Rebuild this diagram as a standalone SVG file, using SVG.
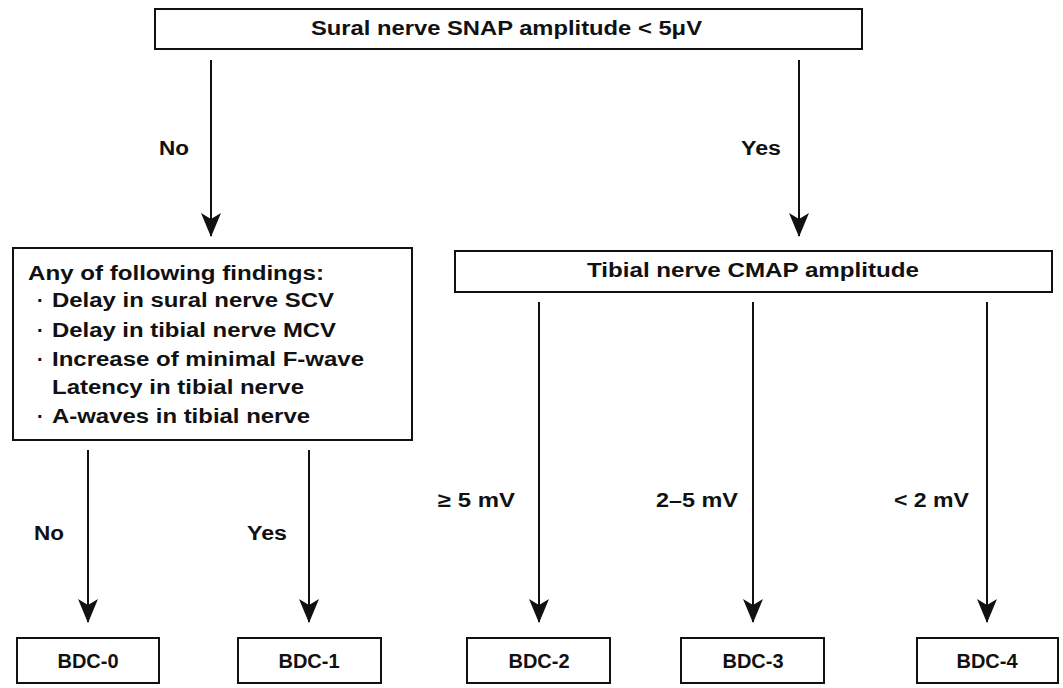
<svg xmlns="http://www.w3.org/2000/svg" width="1063" height="688" viewBox="0 0 1063 688">
<style>
.box{fill:#fff;stroke:#111;stroke-width:2}
.t{font-family:"Liberation Sans",Arial,sans-serif;font-weight:bold;fill:#111;font-size:20px}
.c{text-anchor:middle}
.conn line{stroke:#111;stroke-width:2}
</style>
<defs>
<marker id="ah" viewBox="0 0 24 20" refX="23" refY="10" markerWidth="24" markerHeight="20" markerUnits="userSpaceOnUse" orient="auto">
<path d="M0,0 L24,10 L0,20 L6,10 Z" fill="#111"/>
</marker>
</defs>
<rect width="1063" height="688" fill="#fff"/>
<g class="conn">
<line x1="211" y1="60" x2="211" y2="236" marker-end="url(#ah)"/>
<line x1="799" y1="60" x2="799" y2="236" marker-end="url(#ah)"/>
<line x1="88" y1="450" x2="88" y2="622" marker-end="url(#ah)"/>
<line x1="309" y1="450" x2="309" y2="622" marker-end="url(#ah)"/>
<line x1="539" y1="302" x2="539" y2="622" marker-end="url(#ah)"/>
<line x1="753" y1="302" x2="753" y2="622" marker-end="url(#ah)"/>
<line x1="987" y1="302" x2="987" y2="622" marker-end="url(#ah)"/>
<text class="t" x="159" y="155" textLength="30" lengthAdjust="spacingAndGlyphs">No</text>
<text class="t" x="741" y="155" textLength="40" lengthAdjust="spacingAndGlyphs">Yes</text>
<text class="t" x="34" y="540" textLength="30" lengthAdjust="spacingAndGlyphs">No</text>
<text class="t" x="247" y="540" textLength="40" lengthAdjust="spacingAndGlyphs">Yes</text>
<text class="t" x="438" y="507" textLength="77" lengthAdjust="spacingAndGlyphs">≥ 5 mV</text>
<text class="t" x="656" y="507" textLength="82" lengthAdjust="spacingAndGlyphs">2–5 mV</text>
<text class="t" x="894" y="507" textLength="75" lengthAdjust="spacingAndGlyphs">&lt; 2 mV</text>
</g>
<g id="n-sural">
<rect class="box" x="155" y="9" width="707" height="40"/>
<text class="t" x="311" y="35" textLength="391" lengthAdjust="spacingAndGlyphs">Sural nerve SNAP amplitude &lt; 5μV</text>
</g>
<g id="n-findings">
<rect class="box" x="13" y="248" width="399" height="192"/>
<text class="t" x="28" y="280" textLength="296" lengthAdjust="spacingAndGlyphs">Any of following findings:</text>
<text class="t" x="37" y="307">·</text>
<text class="t" x="52" y="307" textLength="282" lengthAdjust="spacingAndGlyphs">Delay in sural nerve SCV</text>
<text class="t" x="37" y="337">·</text>
<text class="t" x="52" y="337" textLength="284" lengthAdjust="spacingAndGlyphs">Delay in tibial nerve MCV</text>
<text class="t" x="37" y="366">·</text>
<text class="t" x="52" y="366" textLength="312" lengthAdjust="spacingAndGlyphs">Increase of minimal F-wave</text>
<text class="t" x="52" y="394" textLength="252" lengthAdjust="spacingAndGlyphs">Latency in tibial nerve</text>
<text class="t" x="37" y="423">·</text>
<text class="t" x="52" y="423" textLength="258" lengthAdjust="spacingAndGlyphs">A-waves in tibial nerve</text>
</g>
<g id="n-tibial">
<rect class="box" x="455" y="251" width="597" height="41"/>
<text class="t" x="587" y="277" textLength="332" lengthAdjust="spacingAndGlyphs">Tibial nerve CMAP amplitude</text>
</g>
<g id="n-bdc0"><rect class="box" x="17" y="638" width="142" height="45"/><text class="t c" x="88" y="668">BDC-0</text></g>
<g id="n-bdc1"><rect class="box" x="238" y="638" width="143" height="45"/><text class="t c" x="309" y="668">BDC-1</text></g>
<g id="n-bdc2"><rect class="box" x="467" y="638" width="143" height="45"/><text class="t c" x="539" y="668">BDC-2</text></g>
<g id="n-bdc3"><rect class="box" x="681" y="638" width="143" height="45"/><text class="t c" x="753" y="668">BDC-3</text></g>
<g id="n-bdc4"><rect class="box" x="917" y="638" width="141" height="45"/><text class="t c" x="987" y="668">BDC-4</text></g>
</svg>
